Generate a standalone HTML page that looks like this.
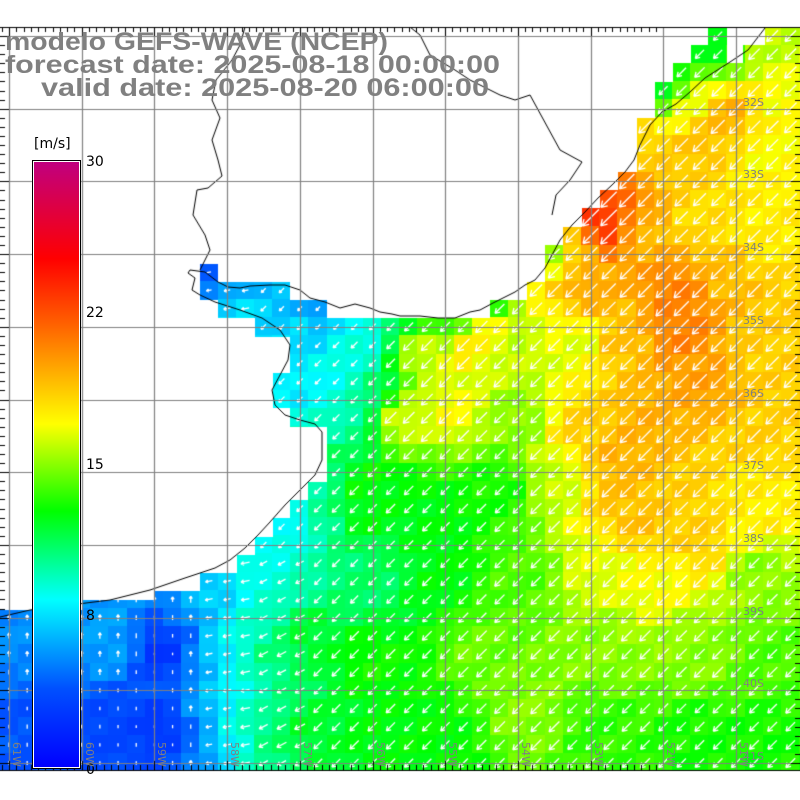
<!DOCTYPE html>
<html><head><meta charset="utf-8"><style>
html,body{margin:0;padding:0;background:#fff;}
#w{position:relative;width:800px;height:800px;overflow:hidden;}
canvas{position:absolute;left:0;top:0;}
svg{position:absolute;left:0;top:0;}
</style></head><body><div id="w">
<canvas id="c" width="800" height="800"></canvas>
<svg width="800" height="800" xmlns="http://www.w3.org/2000/svg">
<defs><linearGradient id="g" x1="0" y1="1" x2="0" y2="0">
<stop offset="0" stop-color="#0000ff"/>
<stop offset="0.13" stop-color="#0050ff"/>
<stop offset="0.277" stop-color="#00ffff"/>
<stop offset="0.423" stop-color="#00ff00"/>
<stop offset="0.567" stop-color="#ffff00"/>
<stop offset="0.733" stop-color="#ff6000"/>
<stop offset="0.84" stop-color="#ff0000"/>
<stop offset="1" stop-color="#c0007f"/>
</linearGradient></defs>
<rect x="32.5" y="160.5" width="48" height="608" fill="#fff" stroke="#000" stroke-width="1"/>
<rect x="34" y="162" width="45" height="605" fill="url(#g)"/>
<g font-family="DejaVu Sans, sans-serif" font-size="14" fill="#000">
<text x="34" y="148">[m/s]</text>
<text x="86" y="166">30</text>
<text x="86" y="317">22</text>
<text x="86" y="469">15</text>
<text x="86" y="620">8</text>
<text x="86" y="774">0</text>
</g>
<g font-family="Liberation Sans, sans-serif" font-weight="bold" font-size="25" fill="#808080">
<text x="5" y="50" textLength="383" lengthAdjust="spacingAndGlyphs">modelo GEFS-WAVE (NCEP)</text>
<text x="5" y="73" textLength="495" lengthAdjust="spacingAndGlyphs">forecast date: 2025-08-18 00:00:00</text>
<text x="41" y="96" textLength="448" lengthAdjust="spacingAndGlyphs">valid date: 2025-08-20 06:00:00</text>
</g>
<g id="lab" font-family="DejaVu Sans, sans-serif" font-size="11" fill="#808080"></g>
</svg>
<script>
const cv=document.getElementById('c'),ctx=cv.getContext('2d');
const T=27,B=770,GX0=9,GY0=36,D=72.7,C=D/4;
const P=[
[30,640,5.5],[40,720,4],[110,640,6],[110,730,3.5],[165,650,2.5],[165,730,2.5],[190,640,4.5],[190,730,4.5],[209,640,7],[209,720,6.5],[229,640,8.3],[229,720,8.5],[250,640,9.5],[250,720,9.5],[275,650,10.8],[275,730,11],[310,640,12],[310,730,12],
[209,272,4.5],[209,292,5],[250,292,6.5],[240,310,8],[300,310,6.5],[320,310,5.5],[300,330,7.5],[350,330,8.3],[360,350,9],[300,390,7.8],[340,390,8.5],[320,420,9],[350,420,10],[370,400,11],[340,470,11],[360,480,13],[320,490,10],[300,530,8],[330,530,10.5],[360,520,12.5],[270,550,8.2],[300,560,9.5],[350,570,10.8],[220,585,7],[260,585,9],
[370,325,8.5],[410,328,12.5],[450,328,13],[490,328,17.5],[500,308,13.5],[535,300,16.8],[550,290,18.5],[555,255,15],[575,255,19],[585,290,20],
[420,350,16.5],[460,345,18],[520,350,16],[580,340,16.5],[620,340,19],[680,330,21],[700,380,20],[760,350,18.5],
[400,420,16.5],[450,410,17],[520,420,15],[580,430,18.5],[650,420,19.5],[760,440,18.5],[620,460,19.5],
[370,500,12.5],[440,520,12.5],[500,490,13],[560,480,16],[620,490,19],[680,500,18.5],[760,490,17.5],[640,520,19],[700,540,18.5],[760,520,17.5],
[370,580,11],[440,580,12.5],[520,580,14],[600,570,16.5],[660,580,17],[760,570,15],
[370,660,13],[480,650,14.5],[600,650,15],[700,650,15],[770,660,14],
[380,740,12.5],[440,740,12.7],[530,710,15],[600,730,13.5],[700,740,13],[770,740,13],
[715,45,12.5],[665,90,12.5],[690,110,17],[700,140,19],[650,150,18.5],[730,120,19.5],[775,45,16],[780,100,17],[760,150,17],[620,210,22],[605,225,24],[640,230,19],[700,220,18],[760,230,17.5],[720,270,19],[680,290,21]];
function val(x,y){let s=0,w=0;for(const p of P){const d=(x-p[0])**2+(y-p[1])**2+150;const k=1/(d*d);s+=k*p[2];w+=k;}return s/w;}
const ST=[[0,[0,0,255]],[4,[0,80,255]],[8.3,[0,255,255]],[12.7,[0,255,0]],[17,[255,255,0]],[22,[255,96,0]],[25.2,[255,0,0]],[30,[192,0,127]]];
function col(v){v=Math.max(0,Math.min(30,v));for(let i=1;i<ST.length;i++){if(v<=ST[i][0]){const a=ST[i-1],b=ST[i],t=(v-a[0])/(b[0]-a[0]);return 'rgb('+a[1].map((c,j)=>Math.round(c+(b[1][j]-c)*t)).join(',')+')';}}}
ctx.save();ctx.beginPath();ctx.rect(0,T,800,B-T);ctx.clip();
const cells=[];
for(let i=-2;i<46;i++)for(let j=-1;j<42;j++){const x=GX0+i*C,y=GY0+j*C;const v=val(x,y)+Math.sin(i*1.7+j*2.3)*0.4;cells.push([x,y,v]);ctx.fillStyle=col(v);ctx.fillRect(Math.floor(x-C/2),Math.floor(y-C/2),Math.ceil(C)+1,Math.ceil(C)+1);}
ctx.strokeStyle='#fff';ctx.lineWidth=1.3;
for(const [x,y,v] of cells){let dx,dy;
 if(x<200){dx=0;dy=-1;}else if(x<250){dx=-1;dy=0.2;}else if(x<300&&y>560){dx=-0.85;dy=0.45;}else{dx=-0.7;dy=0.7;}
 const L=Math.max(2,v*1.0);const hx=x+dx*L/2,hy=y+dy*L/2,tx=x-dx*L/2,ty=y-dy*L/2;
 ctx.beginPath();ctx.moveTo(tx,ty);ctx.lineTo(hx,hy);
 if(L>5){const a=Math.atan2(dy,dx),h=Math.min(7,Math.max(3,L*0.4));for(const s of[-0.55,0.55]){ctx.moveTo(hx,hy);ctx.lineTo(hx-h*Math.cos(a+s),hy-h*Math.sin(a+s));}}
 ctx.stroke();}
const land=[[0,0],[800,0],[800,27],[765,27],[765,45],[743,45],[743,63],[727,63],[727,27],[708,27],[708,45],[691,45],[691,63],[673,63],[673,82],[655,82],[655,118],[637,118],[637,172],[618,172],[618,190],[600,190],[600,208],[582,208],[582,227],[563,227],[563,245],[545,245],[545,282],[527,282],[527,300],[490,300],[490,318],[327,318],[327,300],[290,300],[290,282],[218,282],[218,264],[200,264],[200,300],[218,300],[218,318],[255,318],[255,337],[290,337],[290,373],[273,373],[273,408],[290,408],[290,427],[327,427],[327,482],[308,482],[308,500],[290,500],[290,518],[273,518],[273,537],[255,537],[255,555],[237,555],[237,573],[200,573],[200,591],[155,591],[155,600],[82,600],[82,610],[0,610]];
ctx.fillStyle='#fff';ctx.beginPath();land.forEach((p,i)=>i?ctx.lineTo(p[0],p[1]):ctx.moveTo(p[0],p[1]));ctx.closePath();ctx.fill();
ctx.strokeStyle='#000';ctx.lineWidth=1;
function pl(a){ctx.beginPath();a.forEach((p,i)=>i?ctx.lineTo(p[0],p[1]):ctx.moveTo(p[0],p[1]));ctx.stroke();}
pl([[765,28],[748,50],[730,62],[705,78],[690,92],[676,104],[662,112],[650,125],[640,145],[634,160],[625,172],[612,185],[598,198],[585,212],[572,225],[560,240],[552,255],[545,268],[535,280],[525,285],[515,292],[503,298],[493,303],[480,310],[470,312],[455,318],[438,318],[420,316],[400,316],[392,314],[380,312],[370,308],[355,304],[340,308],[325,302],[310,298],[300,290],[285,285],[270,285],[250,286],[240,288],[228,287],[218,282],[205,272],[190,270],[188,273],[195,278],[192,290],[200,295],[215,302],[240,310],[262,318],[280,330],[290,345],[288,360],[280,375],[272,390],[275,405],[285,415],[300,420],[315,424],[322,432],[322,460],[315,475],[300,490],[285,505],[270,522],[258,535],[245,548],[230,560],[215,568],[185,578],[150,590],[110,600],[70,605],[30,610],[0,617]]);
pl([[200,270],[210,250],[205,235],[193,215],[197,190],[208,188],[222,176],[218,160],[212,140],[220,118],[212,100],[216,80],[232,60],[240,45],[245,27]]);
pl([[410,27],[420,35],[430,55],[455,70],[470,80],[500,95],[515,100],[530,95],[560,150],[582,162],[570,180],[556,195],[552,215]]);
ctx.restore();
ctx.strokeStyle='#808080';ctx.lineWidth=1.2;
for(let k=0;k<11;k++){const x=Math.round(GX0+k*D)+0.5;ctx.beginPath();ctx.moveTo(x,T);ctx.lineTo(x,B);ctx.stroke();}
for(let k=0;k<11;k++){const y=Math.round(GY0+k*D)+0.5;ctx.beginPath();ctx.moveTo(0,y);ctx.lineTo(800,y);ctx.stroke();}
ctx.strokeStyle='#000';ctx.lineWidth=1;
for(let k=-1;k<90;k++){const x=Math.round(GX0+k*D/10)+0.5,m=(k%10==0)?9:5;ctx.beginPath();ctx.moveTo(x,B);ctx.lineTo(x,B-m);ctx.moveTo(x,T);ctx.lineTo(x,T+m);ctx.stroke();
 const y=Math.round(GY0+k*D/8)+0.5,n=(k%8==0)?9:5;if(y>T&&y<B){ctx.beginPath();ctx.moveTo(0,y);ctx.lineTo(n,y);ctx.moveTo(800,y);ctx.lineTo(800-n,y);ctx.stroke();}}
ctx.beginPath();ctx.moveTo(0,B+0.5);ctx.lineTo(800,B+0.5);ctx.moveTo(0,T+0.5);ctx.lineTo(800,T+0.5);ctx.stroke();
const g=document.getElementById('lab');let h='';
for(let k=0;k<10;k++){const y=GY0+(k+1)*D-3;h+='<text x="743" y="'+(y.toFixed(0))+'">'+(32+k)+'S</text>';}
for(let k=0;k<11;k++){const x=GX0+k*D+4;h+='<text transform="translate('+x.toFixed(0)+',742) rotate(90)">'+(61-k)+'W</text>';}
g.innerHTML=h;
</script>
</div></body></html>
